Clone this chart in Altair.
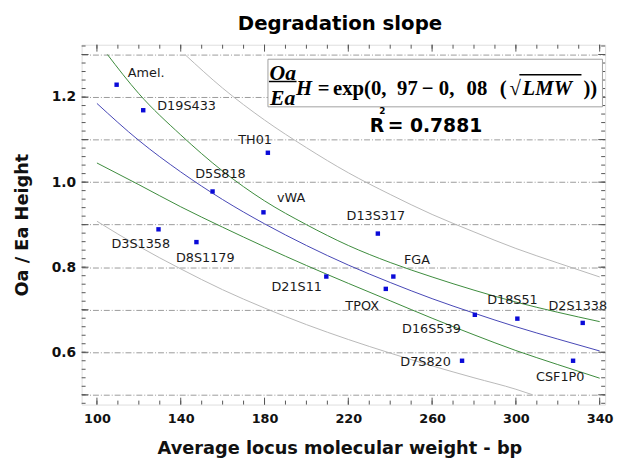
import altair as alt
import pandas as pd

# ---------------- data ----------------
LOCI = ["Amel.", "D19S433", "TH01", "D5S818", "vWA", "D3S1358", "D8S1179", "D21S11",
        "D13S317", "FGA", "TPOX", "D16S539", "D18S51", "D2S1338", "D7S820", "CSF1P0"]
LMW = [109.4, 122.1, 181.6, 155.2, 179.5, 129.4, 147.5, 209.5,
       234.1, 241.5, 237.9, 280.4, 300.7, 331.9, 274.3, 327.3]
RATIO = [1.229, 1.169, 1.069, 0.978, 0.929, 0.889, 0.859, 0.778,
         0.879, 0.778, 0.749, 0.688, 0.679, 0.669, 0.580, 0.580]

# fitted curve (blue)
FIT_X = [100, 120, 140, 160, 180, 200, 220, 240, 260, 280, 300, 320, 340]
FIT_Y = [1.185, 1.098, 1.024, 0.959, 0.902, 0.851, 0.805, 0.764, 0.726, 0.692, 0.660, 0.631, 0.603]
# confidence band (green)
CU_X = [105, 120, 140, 160, 180, 200, 220, 240, 260, 280, 300, 320, 340]
CU_Y = [1.300, 1.208, 1.111, 1.026, 0.956, 0.900, 0.851, 0.811, 0.777, 0.746, 0.718, 0.694, 0.672]
CL_X = [100, 120, 140, 160, 180, 200, 220, 240, 260, 280, 300, 320, 340]
CL_Y = [1.045, 0.994, 0.942, 0.894, 0.848, 0.804, 0.762, 0.721, 0.680, 0.641, 0.604, 0.571, 0.539]
# prediction band (grey)
PU_X = [142, 160, 180, 200, 220, 240, 260, 280, 300, 320, 340]
PU_Y = [1.300, 1.221, 1.146, 1.081, 1.022, 0.971, 0.924, 0.883, 0.844, 0.810, 0.777]
PL_X = [100, 120, 140, 160, 180, 200, 220, 240, 260, 280, 300, 308]
PL_Y = [0.908, 0.849, 0.796, 0.747, 0.704, 0.665, 0.630, 0.598, 0.568, 0.540, 0.513, 0.500]

# axis scaffolding
X_LABELS = [100, 140, 180, 220, 260, 300, 340]
X_MINOR = [100, 110, 120, 130, 140, 150, 160, 170, 180, 190, 200, 210, 220, 230, 240,
           250, 260, 270, 280, 290, 300, 310, 320, 330, 340]
Y_GRID = [0.5, 0.6, 0.7, 0.8, 0.9, 1.0, 1.1, 1.2, 1.3]
Y_MINOR = [0.48, 0.50, 0.52, 0.54, 0.56, 0.58, 0.60, 0.62, 0.64, 0.66, 0.68, 0.70, 0.72,
           0.74, 0.76, 0.78, 0.80, 0.82, 0.84, 0.86, 0.88, 0.90, 0.92, 0.94, 0.96, 0.98,
           1.00, 1.02, 1.04, 1.06, 1.08, 1.10, 1.12, 1.14, 1.16, 1.18, 1.20, 1.22, 1.24,
           1.26, 1.28, 1.30, 1.32]

# label placement (pixel offsets from the point)
LABEL_OFFSET = {
    "Amel.": (30, -12), "D19S433": (44, -4), "TH01": (-13, -13), "D5S818": (8, -18),
    "vWA": (28, -14), "D3S1358": (-18, 15), "D8S1179": (9, 16), "D21S11": (-30, 11),
    "D13S317": (-2, -18), "FGA": (24, -17), "TPOX": (-24, 17), "D16S539": (-44, 14),
    "D18S51": (-5, -19), "D2S1338": (-5, -17), "D7S820": (-37, 1), "CSF1P0": (-13, 17),
}

W, H = 531, 365
SANS = "DejaVu Sans"
SERIF = "Liberation Serif"

xs = alt.Scale(domain=[92.7, 342.6], nice=False, zero=False)
ys = alt.Scale(domain=[0.477, 1.323], nice=False, zero=False)

x_axis = alt.Axis(values=X_LABELS, grid=False, ticks=False, tickSize=0, domain=False,
                  labelFont=SANS, labelFontSize=13, labelFontWeight="bold", labelColor="#111",
                  labelPadding=8, title="Average locus molecular weight - bp",
                  titleFont=SANS, titleFontSize=18, titleFontWeight="bold", titleColor="#111",
                  titleX=261.5, titleY=50, titleBaseline="alphabetic", titleAlign="center")
y_axis = alt.Axis(values=Y_GRID, grid=True, gridColor="#9a9a9a", gridDash=[6, 2, 1, 2],
                  gridWidth=1, ticks=False, tickSize=0, domain=False,
                  labelExpr="round(datum.value*10) % 2 == 0 ? format(datum.value, '.1f') : ''",
                  labelFont=SANS, labelFontSize=14, labelFontWeight="bold", labelColor="#111",
                  labelPadding=6, title="Oa / Ea Height", titleFont=SANS, titleFontSize=18,
                  titleFontWeight="bold", titleColor="#111", titleX=-55, titleY=H / 2,
                  titleAngle=270, titleBaseline="alphabetic", titleAlign="center")

X = alt.X("x:Q", scale=xs, axis=x_axis)
Y = alt.Y("y:Q", scale=ys, axis=y_axis)


def curve(xv, yv, color):
    df = pd.DataFrame({"x": xv, "y": yv})
    return alt.Chart(df).mark_line(color=color, strokeWidth=1, interpolate="monotone").encode(x=X, y=Y)


layers = [
    curve(PU_X, PU_Y, "#b8b8b8"),
    curve(PL_X, PL_Y, "#b8b8b8"),
    curve(CU_X, CU_Y, "#3b8a3b"),
    curve(CL_X, CL_Y, "#3b8a3b"),
    curve(FIT_X, FIT_Y, "#4545b5"),
]

pts = pd.DataFrame({"locus": LOCI, "x": LMW, "y": RATIO})
layers.append(alt.Chart(pts).mark_square(size=20, color="#0a0ad8", opacity=1).encode(x=X, y=Y))
for name in LOCI:
    dx, dy = LABEL_OFFSET[name]
    layers.append(
        alt.Chart(pts).transform_filter(alt.datum.locus == name)
        .mark_text(font=SANS, fontSize=13, color="#1a1a1a", align="center", baseline="middle", dx=dx, dy=dy)
        .encode(x=X, y=Y, text="locus:N")
    )

# tick marks on the frame
xmin = pd.DataFrame({"x": X_MINOR})
xmaj = pd.DataFrame({"x": X_LABELS})
ymin = pd.DataFrame({"y": Y_MINOR})
ymaj = pd.DataFrame({"y": Y_GRID})
TICK = "#555555"
for df, L in ((xmin, 4), (xmaj, 7)):
    layers.append(alt.Chart(df).mark_rule(color=TICK).encode(x=X, y=alt.value(H), y2=alt.value(H - L)))
    layers.append(alt.Chart(df).mark_rule(color=TICK).encode(x=X, y=alt.value(0), y2=alt.value(L)))
for df, L in ((ymin, 4), (ymaj, 7)):
    layers.append(alt.Chart(df).mark_rule(color=TICK).encode(y=Y, x=alt.value(0), x2=alt.value(L)))
    layers.append(alt.Chart(df).mark_rule(color=TICK).encode(y=Y, x=alt.value(W), x2=alt.value(W - L)))

# formula box
layers.append(alt.Chart().mark_rect(fill="white", stroke="#a0a0a0", strokeWidth=1).encode(
    x=alt.value(189), x2=alt.value(528.3), y=alt.value(14.7), y2=alt.value(63)))


def txt(s, x, y, size=21, italic=False, font=SERIF, align="left"):
    return alt.Chart().mark_text(font=font, fontSize=size, fontWeight="bold",
                                 fontStyle="italic" if italic else "normal",
                                 align=align, baseline="alphabetic", color="#000").encode(
        x=alt.value(x), y=alt.value(y), text=alt.value(s))


layers += [
    txt("Degradation slope", W / 2 - 3.5, -14.7, size=20, font=SANS, align="center"),
    txt("Oa", 204, 35.3, size=22, italic=True, align="center"),
    txt("Ea", 204, 61.5, size=22, italic=True, align="center"),
    alt.Chart().mark_rule(color="#000", strokeWidth=1.5).encode(
        x=alt.value(190), x2=alt.value(218), y=alt.value(37.3)),
    txt("H", 217.5, 51.3, size=21, italic=True),
    txt("=", 239.5, 51.3),
    txt("exp(0,", 255, 51.3),
    txt("97", 320, 51.3),
    txt("\u2212", 345, 51.3),
    txt("0,", 362.3, 51.3),
    txt("08", 390.5, 51.3),
    txt("(", 424, 51.3),
    txt("\u221a", 434, 51.3),
    txt("LMW", 447.3, 51.3, italic=True),
    alt.Chart().mark_rule(color="#000", strokeWidth=1.5).encode(
        x=alt.value(444), x2=alt.value(507), y=alt.value(30.5)),
    txt("))", 509, 51.3),
    txt("R", 292.3, 88.5, size=19, font=SANS),
    txt("2", 305, 70, size=9, font=SANS, align="center"),
    txt("= 0.7881", 310.5, 88.5, size=19, font=SANS),
]

chart = alt.layer(*layers).properties(
    width=W, height=H,
    autosize=alt.AutoSizeParams(type="none"),
    padding={"left": 74.7, "top": 34, "right": 9, "bottom": 55},
).configure_view(stroke="#555555", strokeWidth=1).configure(background="white")

chart.save("out.html", embed_options={"renderer": "svg", "actions": False})
